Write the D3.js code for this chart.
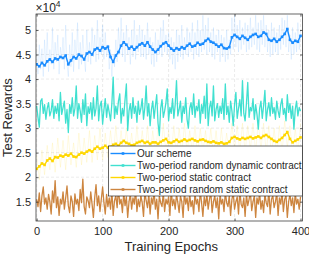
<!DOCTYPE html>
<html>
<head>
<meta charset="utf-8">
<script src="https://cdn.jsdelivr.net/npm/d3@7"></script>
<style>
  body { margin: 0; background: #fff; }
  text { font-family: "Liberation Sans", Arial, sans-serif; fill: #262626; }
</style>
</head>
<body>
<div id="vis"></div>
<script>
// values in units of 1e4, epochs spread evenly over 0..400
const X_TICKS = [0, 100, 200, 300, 400];
const Y_TICKS = [1.5, 2, 2.5, 3, 3.5, 4, 4.5, 5];
const LEGEND_NAMES = ["Our scheme", "Two-period random dynamic contract",
                      "Two-period static contract", "Two-period random static contract"];

const OURS_RAW = [4.55,4.10,4.70,4.20,4.62,4.05,4.80,4.25,4.95,4.15,4.60,4.30,5.05,4.20,4.75,4.35,4.90,4.10,4.65,4.40,
  4.85,4.20,5.10,4.30,4.05,4.70,4.25,4.95,4.15,4.80,4.40,5.15,4.20,4.75,4.30,4.90,4.45,4.15,5.00,4.35,
  4.75,4.30,5.05,4.45,4.90,4.35,5.20,4.40,4.85,4.50,5.10,4.40,4.95,4.45,4.70,4.20,4.60,4.05,4.50,4.25,
  4.80,4.35,5.05,4.50,5.25,4.45,4.95,4.35,5.10,4.50,4.85,4.30,5.00,4.45,5.20,4.40,4.90,4.55,5.10,4.45,
  5.00,4.45,4.90,4.40,5.15,4.50,4.85,4.30,4.75,4.25,4.95,4.35,4.80,4.50,5.05,4.45,5.20,4.55,4.90,4.50,
  4.95,4.40,4.85,4.30,4.75,4.20,5.00,4.35,4.90,4.45,5.10,4.40,4.85,4.50,5.05,4.45,4.95,4.55,5.15,4.40,
  4.95,4.50,5.20,4.45,5.00,4.55,5.30,4.60,5.10,4.50,5.25,4.55,4.95,4.45,5.05,4.40,4.90,4.55,5.00,4.35,
  4.90,4.45,4.85,4.35,5.00,4.40,4.80,4.50,5.25,4.60,5.30,4.65,5.10,4.55,5.20,4.60,5.05,4.70,5.15,4.55,
  5.10,4.60,5.25,4.65,5.05,4.70,5.30,4.60,5.15,4.55,5.20,4.70,5.30,4.65,5.10,4.55,5.00,4.45,5.15,4.50,
  5.05,4.55,4.95,4.50,5.10,4.60,5.25,4.70,5.20,4.65,5.30,4.55,4.90,4.40,5.05,4.50,4.95,4.55,5.15,4.60,5.00];

const OURS = [4.30,4.26,4.33,4.28,4.36,4.40,4.35,4.42,4.40,4.45,
  4.43,4.48,4.30,4.38,4.45,4.42,4.50,4.47,4.40,4.52,
  4.55,4.50,4.60,4.63,4.58,4.65,4.62,4.66,4.45,4.35,
  4.48,4.55,4.68,4.75,4.70,4.62,4.66,4.60,4.65,4.70,
  4.73,4.68,4.75,4.66,4.60,4.55,4.60,4.67,4.72,4.75,
  4.68,4.62,4.58,4.63,4.60,4.65,4.62,4.68,4.72,4.66,
  4.68,4.74,4.70,4.72,4.78,4.82,4.76,4.74,4.70,4.66,
  4.70,4.63,4.62,4.65,4.85,4.90,4.86,4.82,4.88,4.84,
  4.80,4.86,4.90,4.92,4.86,4.88,4.95,4.92,4.80,4.78,
  4.82,4.76,4.80,4.86,4.92,5.02,4.80,4.74,4.78,4.76,4.88];

const RAND_DYN = [3.45,3.22,3.02,3.55,3.60,3.30,3.48,3.18,3.40,3.52,3.25,3.35,3.58,3.20,3.45,3.30,3.50,3.15,3.73,3.28,
  3.42,3.55,3.10,3.38,2.91,3.48,3.30,3.62,3.25,3.40,3.86,3.20,3.50,3.35,3.12,3.58,3.28,3.70,3.05,3.44,
  3.30,3.52,3.18,3.62,3.25,3.40,3.86,3.15,3.45,3.55,3.08,3.38,3.60,3.22,3.48,3.32,3.15,3.50,4.04,3.20,
  3.45,3.28,3.55,3.70,3.10,3.40,3.25,3.58,3.90,2.95,3.35,3.50,3.20,3.62,3.30,3.45,3.12,3.55,3.28,3.40,
  3.60,3.18,3.42,3.86,3.25,3.50,3.05,3.38,3.55,3.20,3.45,3.68,3.10,2.85,3.40,3.58,3.22,3.35,3.52,3.80,
  3.15,3.42,3.30,3.60,3.20,3.48,3.97,3.25,3.38,3.55,3.12,3.45,3.30,3.62,3.18,3.00,3.40,3.52,3.28,3.70,
  3.22,3.45,3.35,3.58,3.10,3.48,3.30,3.65,3.20,3.90,3.05,3.42,3.55,3.25,3.86,3.15,3.38,3.50,3.22,3.45,
  3.30,3.60,3.18,3.90,3.28,3.45,3.12,3.55,3.35,3.05,3.48,3.73,3.20,3.40,3.58,3.25,3.97,3.30,3.15,3.50,
  3.93,3.22,3.42,3.35,3.60,3.18,3.48,3.28,2.98,3.40,3.55,3.20,3.45,3.77,3.15,3.38,3.52,3.25,3.62,3.30,
  3.42,3.18,3.55,3.35,3.22,3.48,3.60,3.28,3.40,3.15,3.68,3.32,3.50,3.20,3.45,2.98,3.38,3.55,3.25,3.42,3.35];

const STATIC_RAW = [2.45,1.95,2.55,2.05,2.65,2.15,2.70,2.10,2.80,2.20,
  2.75,2.15,2.85,2.25,2.70,2.20,2.90,2.25,2.80,2.30,
  2.95,2.30,2.85,2.35,3.00,2.35,2.90,2.40,2.95,2.40,
  3.05,2.45,2.95,2.40,3.00,2.45,2.90,2.40,3.05,2.45,
  2.95,2.45,3.05,2.40,2.95,2.50,3.00,2.45,3.10,2.50,
  2.95,2.45,3.05,2.50,3.00,2.45,3.10,2.50,2.95,2.50,
  3.05,2.45,3.00,2.50,2.95,2.45,3.00,2.45,2.95,2.40,
  3.00,2.45,2.90,2.50,3.10,2.55,3.05,2.50,3.10,2.50,
  3.05,2.55,3.10,2.50,3.15,2.55,3.10,2.50,3.05,2.45,
  3.00,2.45,3.05,2.50,3.15,2.60,3.05,2.45,3.00,2.50,3.10];

const STATIC = [2.17,2.22,2.28,2.25,2.34,2.38,2.33,2.41,2.40,2.44,
  2.42,2.46,2.44,2.48,2.42,2.41,2.46,2.50,2.48,2.52,
  2.55,2.52,2.58,2.62,2.58,2.60,2.64,2.60,2.62,2.66,
  2.68,2.64,2.70,2.74,2.70,2.68,2.65,2.66,2.70,2.72,
  2.74,2.70,2.72,2.68,2.71,2.71,2.68,2.72,2.75,2.78,
  2.71,2.70,2.73,2.76,2.72,2.74,2.77,2.74,2.76,2.78,
  2.75,2.73,2.76,2.77,2.74,2.72,2.71,2.73,2.70,2.69,
  2.71,2.68,2.69,2.72,2.80,2.82,2.79,2.77,2.80,2.78,
  2.80,2.82,2.79,2.81,2.83,2.80,2.84,2.86,2.82,2.78,
  2.74,2.72,2.76,2.80,2.86,2.92,2.78,2.71,2.74,2.77,2.81];

const RAND_STATIC = [1.55,1.40,1.68,1.30,1.62,1.80,1.45,1.58,1.35,1.65,1.50,1.25,1.72,1.48,1.93,1.38,1.60,1.22,1.55,1.45,
  1.70,1.35,1.58,1.82,1.42,1.28,1.62,1.50,1.20,1.66,1.45,1.55,1.32,1.75,1.48,1.96,1.40,1.25,1.60,1.52,
  1.38,1.70,1.45,1.18,1.58,1.85,1.42,1.62,1.30,1.55,1.80,1.48,1.25,1.65,1.40,1.58,1.35,1.72,1.22,1.52,
  1.62,1.38,1.78,1.45,1.55,1.28,1.68,1.42,1.60,1.18,1.50,1.65,1.35,1.58,1.45,1.75,1.30,1.55,1.40,1.62,
  1.48,1.20,1.70,1.52,1.38,1.65,1.25,1.58,1.45,1.72,1.35,1.55,1.15,1.62,1.48,1.40,1.68,1.30,1.55,1.45,
  1.60,1.22,1.75,1.42,1.55,1.35,1.65,1.48,1.28,1.62,1.50,1.18,1.70,1.45,1.58,1.32,1.66,1.40,1.52,1.25,
  1.68,1.45,1.55,1.30,1.72,1.48,1.20,1.60,1.42,1.65,1.35,1.55,1.70,1.28,1.50,1.62,1.38,1.58,1.15,1.66,
  1.45,1.55,1.30,1.70,1.48,1.40,1.62,1.22,1.55,1.68,1.35,1.50,1.60,1.25,1.72,1.45,1.38,1.58,1.20,1.65,
  1.42,1.55,1.70,1.32,1.50,1.62,1.18,1.58,1.45,1.68,1.35,1.52,1.28,1.65,1.48,1.40,1.72,1.25,1.55,1.62,
  1.38,1.50,1.68,1.22,1.58,1.45,1.70,1.30,1.55,1.62,1.18,1.50,1.65,1.42,1.58,1.28,1.68,1.45,1.55,1.35,1.60];

const COLORS = ["#1a8cff", "#40e0d0", "#ffd700", "#cd853f"];

// frame
const WIDTH = 309, HEIGHT = 256;
const MARG = {left: 36, right: 6.5, top: 14, bottom: 35};
const VIS_WIDTH = WIDTH - MARG.left - MARG.right;
const VIS_HEIGHT = HEIGHT - MARG.top - MARG.bottom;

const svg = d3.select("#vis").append("svg")
    .attr("width", WIDTH).attr("height", HEIGHT);

const X_SCALE = d3.scaleLinear().domain([-1, 403]).range([0, VIS_WIDTH]);
const Y_SCALE = d3.scaleLinear().domain([1.107, 5.326]).range([VIS_HEIGHT, 0]);

const g = svg.append("g").attr("transform", "translate(" + MARG.left + "," + MARG.top + ")");

svg.append("defs").append("clipPath").attr("id", "clip")
  .append("rect").attr("width", VIS_WIDTH).attr("height", VIS_HEIGHT);

// dashed grid
g.append("g").selectAll("line").data(Y_TICKS).enter().append("line")
    .attr("x1", 0).attr("x2", VIS_WIDTH)
    .attr("y1", d => Y_SCALE(d)).attr("y2", d => Y_SCALE(d))
    .attr("stroke", "#dedede").attr("stroke-width", 0.6).attr("stroke-dasharray", "3,2");
g.append("g").selectAll("line").data(X_TICKS).enter().append("line")
    .attr("y1", 0).attr("y2", VIS_HEIGHT)
    .attr("x1", d => X_SCALE(d)).attr("x2", d => X_SCALE(d))
    .attr("stroke", "#dedede").attr("stroke-width", 0.6).attr("stroke-dasharray", "3,2");

function toPts(arr) {
  return arr.map((v, i) => ({x: i * 400 / (arr.length - 1), y: v}));
}
const line = d3.line().x(d => X_SCALE(d.x)).y(d => Y_SCALE(d.y));

const plot = g.append("g").attr("clip-path", "url(#clip)");

function drawLine(arr, color, width, opacity) {
  plot.append("path").datum(toPts(arr))
      .attr("d", line).attr("fill", "none")
      .attr("stroke", color).attr("stroke-width", width)
      .attr("stroke-opacity", opacity).attr("stroke-linejoin", "round");
}
function drawMarkers(arr, color) {
  plot.append("g").selectAll("rect").data(toPts(arr)).enter().append("rect")
      .attr("x", d => X_SCALE(d.x) - 1.3).attr("y", d => Y_SCALE(d.y) - 1.3)
      .attr("width", 2.6).attr("height", 2.6).attr("fill", color);
}

drawLine(OURS_RAW, COLORS[0], 0.8, 0.13);
drawLine(STATIC_RAW, COLORS[2], 0.8, 0.15);
drawLine(RAND_DYN, COLORS[1], 1.3, 1);
drawLine(OURS, COLORS[0], 1.4, 1);
drawMarkers(OURS, COLORS[0]);
drawLine(STATIC, COLORS[2], 1.4, 1);
drawMarkers(STATIC, COLORS[2]);
drawLine(RAND_STATIC, COLORS[3], 1.3, 1);

// axes box with inward ticks
const AX = "#262626";
const FMT = d => String(d);
g.append("rect").attr("width", VIS_WIDTH).attr("height", VIS_HEIGHT)
    .attr("fill", "none").attr("stroke", AX).attr("stroke-width", 0.7);

g.append("g").attr("transform", "translate(0," + VIS_HEIGHT + ")")
  .call(d3.axisBottom(X_SCALE).tickValues(X_TICKS).tickFormat(FMT).tickSizeInner(-2.5).tickSizeOuter(0).tickPadding(6))
  .call(a => a.select(".domain").remove())
  .call(a => a.selectAll("line").attr("stroke", AX).attr("stroke-width", 0.7))
  .call(a => a.selectAll("text").attr("font-size", "11px").attr("fill", AX)
      .attr("font-family", "Liberation Sans, Arial, sans-serif"));
g.append("g")
  .call(d3.axisTop(X_SCALE).tickValues(X_TICKS).tickSizeInner(-2.5).tickSizeOuter(0).tickFormat(""))
  .call(a => a.select(".domain").remove())
  .call(a => a.selectAll("line").attr("stroke", AX).attr("stroke-width", 0.7));
g.append("g")
  .call(d3.axisLeft(Y_SCALE).tickValues(Y_TICKS).tickFormat(FMT).tickSizeInner(-2.5).tickSizeOuter(0).tickPadding(5))
  .call(a => a.select(".domain").remove())
  .call(a => a.selectAll("line").attr("stroke", AX).attr("stroke-width", 0.7))
  .call(a => a.selectAll("text").attr("font-size", "11px").attr("fill", AX)
      .attr("font-family", "Liberation Sans, Arial, sans-serif"));
g.append("g").attr("transform", "translate(" + VIS_WIDTH + ",0)")
  .call(d3.axisRight(Y_SCALE).tickValues(Y_TICKS).tickSizeInner(-2.5).tickSizeOuter(0).tickFormat(""))
  .call(a => a.select(".domain").remove())
  .call(a => a.selectAll("line").attr("stroke", AX).attr("stroke-width", 0.7));

// exponent label
const ex = svg.append("text").attr("x", 35.5).attr("y", 12).attr("font-size", "12px");
ex.append("tspan").text("\u00d710");
ex.append("tspan").attr("font-size", "8.5px").attr("dy", -5).text("4");

// axis titles
svg.append("text").attr("x", MARG.left + VIS_WIDTH / 2 + 2).attr("y", 251)
    .attr("text-anchor", "middle").attr("font-size", "13px").text("Training Epochs");
svg.append("text").attr("transform", "translate(12," + (MARG.top + VIS_HEIGHT / 2) + ") rotate(-90)")
    .attr("text-anchor", "middle").attr("font-size", "13px").text("Test Rewards");

// legend
const LEG = {x: 108.5, y: 146, w: 194, h: 50};
const leg = svg.append("g");
leg.append("rect").attr("x", LEG.x).attr("y", LEG.y).attr("width", LEG.w).attr("height", LEG.h)
    .attr("fill", "#fff").attr("stroke", AX).attr("stroke-width", 0.7);
LEGEND_NAMES.forEach((name, i) => {
  const cy = LEG.y + 7.5 + i * 12;
  leg.append("line").attr("x1", LEG.x + 2).attr("x2", LEG.x + 27)
      .attr("y1", cy).attr("y2", cy).attr("stroke", COLORS[i]).attr("stroke-width", 1.4);
  leg.append("rect").attr("x", LEG.x + 13.2).attr("y", cy - 1.3).attr("width", 2.6).attr("height", 2.6)
      .attr("fill", COLORS[i]);
  leg.append("text").attr("x", LEG.x + 28.5).attr("y", cy + 3.6)
      .attr("font-size", "10px").text(name);
});
</script>
</body>
</html>
